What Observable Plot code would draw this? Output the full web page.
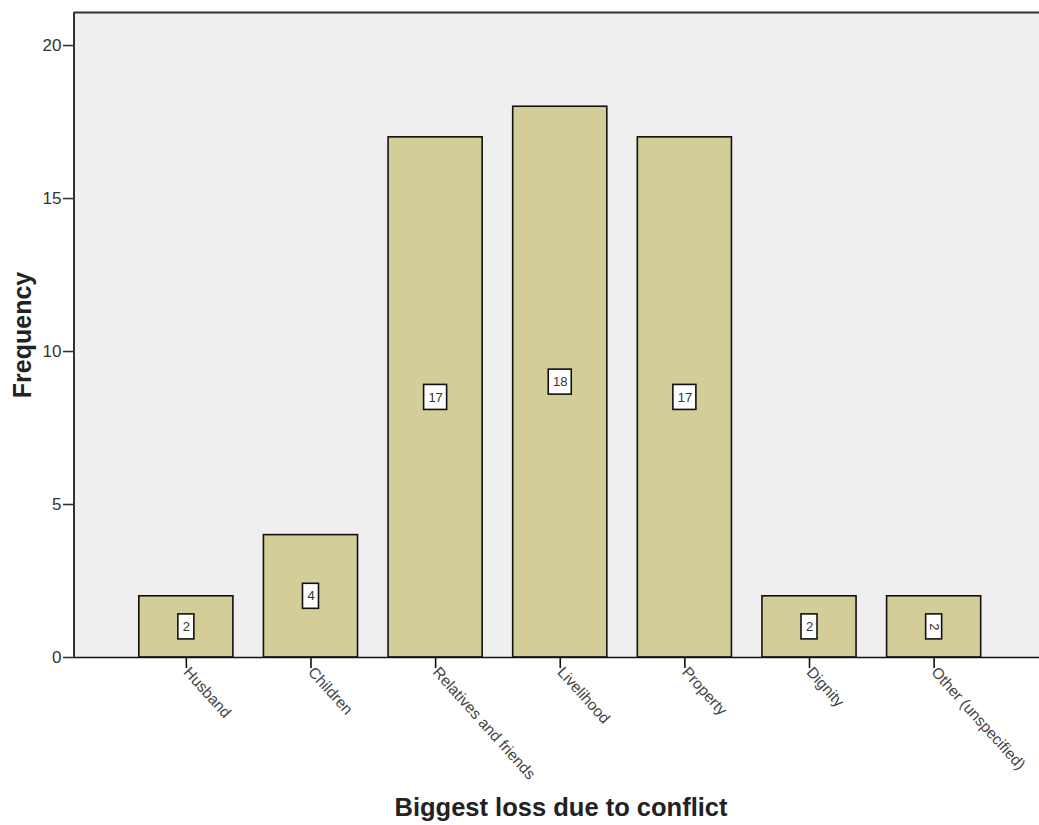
<!DOCTYPE html>
<html>
<head>
<meta charset="utf-8">
<script src="https://cdn.jsdelivr.net/npm/d3@7"></script>
<script src="https://cdn.jsdelivr.net/npm/@observablehq/plot@0.6"></script>
<style>
  html, body { margin: 0; padding: 0; background: #fff; overflow: hidden; }
  #chart svg { overflow: hidden; display: block; }
</style>
</head>
<body>
<div id="chart"></div>
<script>
const categories = ["Husband", "Children", "Relatives and friends", "Livelihood", "Property", "Dignity", "Other (unspecified)"];
const frequencies = [2, 4, 17, 18, 17, 2, 2];
const yTicks = [0, 5, 10, 15, 20];
const xTitle = "Biggest loss due to conflict";
const yTitle = "Frequency";

const data = categories.map((c, i) => ({cat: c, v: frequencies[i]}));

const W = 1039, H = 825;
const mLeft = 74, mTop = 12, mBottom = 168, mRight = -4;
const xRange = [74, 1045.5];
const pIn = 0.245, pOut = 0.52;
const step = (xRange[1] - xRange[0]) / (categories.length - pIn + 2 * pOut);
const bw = step * (1 - pIn);
const font = "'Liberation Sans', Arial, sans-serif";

const boxH = 25;
const single = data.filter(d => String(d.v).length === 1);
const double = data.filter(d => String(d.v).length > 1);

const plot = Plot.plot({
  width: W,
  height: H,
  marginLeft: mLeft,
  marginRight: mRight,
  marginTop: mTop,
  marginBottom: mBottom,
  style: {fontFamily: font, background: "white", color: "#333"},
  x: {type: "band", domain: categories, range: xRange, paddingInner: pIn, paddingOuter: pOut, align: 0.5, round: false},
  y: {domain: [0, 21.08]},
  marks: [
    Plot.frame({fill: "#efefef", stroke: "none"}),
    Plot.barY(data, {x: "cat", y: "v", fill: "#d3ce97", stroke: "#111", strokeWidth: 1.6}),
    Plot.barY(single, {x: "cat", y1: d => d.v / 2, y2: d => d.v / 2,
      insetLeft: (bw - 16) / 2, insetRight: (bw - 16) / 2, insetTop: -boxH / 2, insetBottom: -boxH / 2,
      fill: "white", stroke: "#111", strokeWidth: 1.6}),
    Plot.barY(double, {x: "cat", y1: d => d.v / 2, y2: d => d.v / 2,
      insetLeft: (bw - 23) / 2, insetRight: (bw - 23) / 2, insetTop: -boxH / 2, insetBottom: -boxH / 2,
      fill: "white", stroke: "#111", strokeWidth: 1.6}),
    Plot.text(data, {x: "cat", y: d => d.v / 2, text: d => String(d.v), fontSize: 13, fill: "#333",
      rotate: d => d.cat === "Other (unspecified)" ? 90 : 0}),
    Plot.ruleY([0], {stroke: "#111", strokeWidth: 1.6}),
    Plot.ruleY([21.08], {stroke: "#333", strokeWidth: 2}),
    Plot.axisY({ticks: yTicks, tickSize: 11, tickPadding: 2, fontSize: 17, stroke: "#333", strokeWidth: 1.6, label: null, fill: "#333"}),
    Plot.axisX({tickRotate: 48, tickSize: 11, tickPadding: 1, fontSize: 15.5, stroke: "#111", strokeWidth: 1.6, label: null, fill: "#444"}),
    Plot.text([yTitle], {frameAnchor: "left", dx: -52, rotate: -90, fontSize: 25, fontWeight: "bold", fill: "#222", lineAnchor: "middle", textAnchor: "middle"}),
    Plot.text([xTitle], {frameAnchor: "bottom", dx: 2, dy: 150.5, fontSize: 25.5, fontWeight: "bold", fill: "#222", lineAnchor: "middle", textAnchor: "middle"})
  ]
});

// left border line of the plot frame
const svg = d3.select(plot);
svg.append("line").attr("x1", mLeft).attr("x2", mLeft).attr("y1", mTop).attr("y2", H - mBottom)
  .attr("stroke", "#333").attr("stroke-width", 2);
document.getElementById("chart").appendChild(plot);
</script>
</body>
</html>
